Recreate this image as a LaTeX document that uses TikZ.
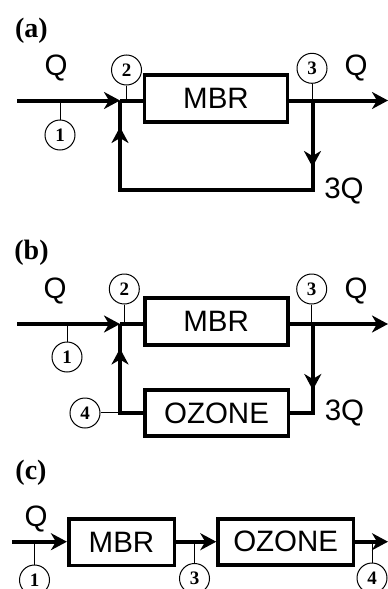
\documentclass[tikz,border=0pt]{standalone}
\usepackage{fontspec}
\setmainfont{Liberation Serif}
\newfontfamily\sansf{Liberation Sans}
\usetikzlibrary{arrows.meta}
\begin{document}
\begin{tikzpicture}[x=1pt,y=-1pt,
  flow/.style={line width=4pt, line join=miter},
  arr/.style={flow, -{Stealth[length=16pt,width=17pt,inset=5pt]}},
  box/.style={draw, line width=3.6pt, inner sep=0pt, font=\sansf\fontsize{29.5}{29.5}\selectfont},
  tag/.style={draw, circle, line width=1pt, minimum size=30pt, inner sep=0pt, font=\bfseries\fontsize{19}{19}\selectfont},
  stem/.style={line width=1pt},
  lbl/.style={inner sep=0pt, anchor=base, font=\sansf\fontsize{29.5}{29.5}\selectfont},
  panel/.style={inner sep=0pt, font=\bfseries\fontsize{28}{28}\selectfont}]
\useasboundingbox (0,0) rectangle (388,589);
\clip (0,0) rectangle (388,589);

% ---------------- (a) ----------------
\node[panel] (pa) at (31.5,31) {(a)};
\node[box, minimum width=143pt, minimum height=47pt] (mbrA) at (216,98.5) {MBR};
\coordinate (inA) at (17,100.5);
\coordinate (jA) at (120,100.5);
\coordinate (oA) at (312.5,100.5);
\coordinate (endA) at (388,100.5);
\coordinate (brA) at (312.5,190);
\coordinate (blA) at (120,190);
\coordinate (dtA) at (312.5,167);
\coordinate (utA) at (120,127);
\draw[arr] (inA) -- (jA);
\draw[flow] (jA) -- (jA -| mbrA.west);
\draw[arr] (mbrA.east |- oA) -- (endA);
\draw[flow] (oA) -- (brA) -- (blA) -- (jA);
\draw[arr] (oA) -- (dtA);
\draw[arr] (blA) -- (utA);
\node[tag] (c1A) at (60,135) {1};
\node[tag] (c2A) at (126.5,70) {2};
\node[tag] (c3A) at (312,68.3) {3};
\draw[stem] (c1A.north) -- (c1A.north |- inA);
\draw[stem] (c2A.south) -- (c2A.south |- jA);
\draw[stem] (c3A.south) -- (c3A.south |- oA);
\node[lbl] (qinA) at (56,75) {Q};
\node[lbl] (qoutA) at (356,75) {Q};
\node[lbl] (q3A) at (344,198) {3Q};

% ---------------- (b) ----------------
\node[panel] (pb) at (31.5,253) {(b)};
\node[box, minimum width=143pt, minimum height=47pt] (mbrB) at (216.2,321.7) {MBR};
\node[box, minimum width=143.6pt, minimum height=46pt] (ozB) at (216.5,413) {OZONE};
\coordinate (inB) at (17,324);
\coordinate (jB) at (120,324);
\coordinate (oB) at (312.8,324);
\coordinate (endB) at (388,324);
\coordinate (brB) at (312.8,412.5);
\coordinate (blB) at (120,412.5);
\coordinate (dtB) at (312.8,390);
\coordinate (utB) at (120,348.5);
\draw[arr] (inB) -- (jB);
\draw[flow] (jB) -- (jB -| mbrB.west);
\draw[arr] (mbrB.east |- oB) -- (endB);
\draw[flow] (oB) -- (brB) -- (brB -| ozB.east);
\draw[arr] (oB) -- (dtB);
\draw[flow] (blB -| ozB.west) -- (blB) -- (jB);
\draw[arr] (blB) -- (utB);
\node[tag] (c1B) at (67,357) {1};
\node[tag] (c2B) at (124.3,289) {2};
\node[tag] (c3B) at (311.7,289) {3};
\node[tag] (c4B) at (85,413) {4};
\draw[stem] (c1B.north) -- (c1B.north |- inB);
\draw[stem] (c2B.south) -- (c2B.south |- jB);
\draw[stem] (c3B.south) -- (c3B.south |- oB);
\draw[stem] (c4B.east |- blB) -- (blB);
\node[lbl] (qinB) at (55,298) {Q};
\node[lbl] (qoutB) at (356,298) {Q};
\node[lbl] (q3B) at (344.5,420) {3Q};

% ---------------- (c) ----------------
\node[panel] (pc) at (31,473) {(c)};
\node[box, minimum width=105.6pt, minimum height=46.6pt] (mbrC) at (121.5,542) {MBR};
\node[box, minimum width=135.3pt, minimum height=46pt] (ozC) at (285.7,541.7) {OZONE};
\coordinate (inC) at (12,541.7);
\coordinate (endC) at (388,541.7);
\draw[arr] (inC) -- (inC -| mbrC.west);
\draw[arr] (mbrC.east |- inC) -- (ozC.west |- inC);
\draw[arr] (ozC.east |- inC) -- (endC);
\node[tag] (c1C) at (34.5,580) {1};
\node[tag] (c3C) at (194.5,578.5) {3};
\node[tag] (c4C) at (372,578) {4};
\draw[stem] (c1C.north) -- (c1C.north |- inC);
\draw[stem] (c3C.north) -- (c3C.north |- inC);
\draw[stem] (c4C.north) -- (c4C.north |- inC);
\node[lbl] (qinC) at (36,526) {Q};
\end{tikzpicture}
\end{document}
